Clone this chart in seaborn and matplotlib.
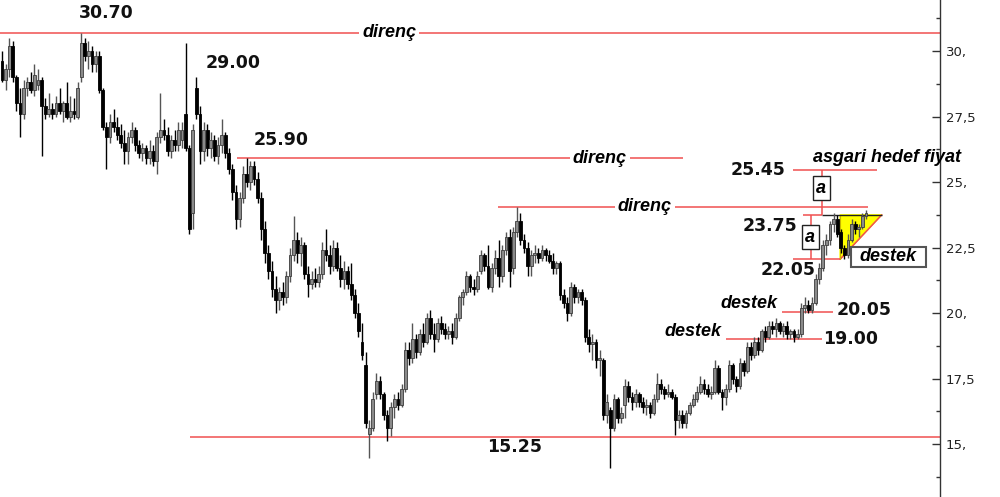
import numpy as np
import pandas as pd
import seaborn as sns
import matplotlib.pyplot as plt
import matplotlib.patches as mpatches
import matplotlib.ticker as mticker

# daily candles
opens = [
    29.6, 28.9, 29.3, 30.2, 29.0, 28.0, 27.6, 28.6, 28.8, 28.5,
    28.7, 28.9, 27.9, 27.6, 27.8, 27.6, 28.0, 27.7, 28.0, 27.5,
    27.7, 27.5, 29.0, 30.3, 29.8, 30.0, 29.5, 29.8, 28.5, 27.1,
    26.7, 27.3, 27.1, 26.8, 26.5, 26.2, 26.7, 27.0, 26.4, 26.1,
    26.3, 25.9, 26.2, 25.8, 26.7, 27.0, 26.8, 26.2, 26.6, 26.4,
    26.6, 27.6, 26.3, 23.8, 28.6, 27.6, 26.2, 27.0, 26.3, 26.6,
    26.0, 26.4, 26.8, 26.1, 25.5, 24.6, 23.6, 24.4, 25.3, 25.0,
    25.6, 25.1, 24.4, 23.2, 22.3, 21.6, 20.9, 20.5, 20.8, 20.6,
    21.4, 22.2, 22.8, 22.3, 22.6, 21.5, 21.1, 21.3, 21.2, 21.5,
    22.4, 22.2, 21.8, 22.5, 21.7, 21.3, 21.6, 21.1, 20.7, 20.0,
    18.9, 18.0, 15.4, 15.6, 16.9, 17.4, 16.9, 16.1, 15.6, 16.4,
    16.7, 16.5, 17.1, 18.6, 18.3, 19.0, 18.5, 19.2, 18.9, 19.8,
    19.2, 19.0, 19.6, 19.4, 19.2, 19.3, 19.1, 19.8, 20.6, 20.8,
    21.4, 21.0, 20.9, 21.6, 22.2, 21.8, 21.0, 21.7, 22.1, 21.4,
    22.4, 22.9, 21.7, 23.1, 23.5, 22.8, 22.5, 21.8, 22.2, 22.3,
    22.1, 22.4, 22.2, 22.0, 21.7, 21.9, 20.7, 20.4, 20.0, 21.0,
    20.6, 20.8, 20.5, 19.1, 18.8, 18.9, 18.2, 18.2, 16.1, 16.3,
    15.6, 16.7, 16.0, 16.5, 17.2, 16.8, 16.6, 16.9, 16.6, 16.4,
    16.5, 16.2, 16.7, 17.3, 17.1, 16.9, 17.0, 16.8, 15.9, 16.1,
    15.8, 16.2, 16.5, 16.7, 17.0, 17.3, 17.1, 16.9, 17.0, 17.9,
    17.0, 16.8, 17.1, 18.0, 17.5, 17.2, 18.1, 17.8, 18.7, 18.4,
    18.9, 18.6, 19.3, 19.1, 19.5, 19.4, 19.6, 19.3, 19.5, 19.2,
    19.3, 19.1, 19.2, 20.2, 20.3, 20.1, 20.4, 21.3, 21.7, 22.6,
    22.8, 23.4, 23.6, 23.1, 22.5, 22.2, 22.8, 23.4, 23.2, 23.3,
    23.7,
]
highs = [
    30.0, 29.5, 30.5, 30.4, 29.1, 28.6, 28.9, 29.0, 29.2, 29.5,
    29.3, 29.0, 28.2, 28.4, 28.0, 28.3, 28.6, 28.1, 28.8, 28.3,
    28.2, 28.8, 30.7, 30.5, 30.4, 30.2, 30.0, 30.0, 28.6, 27.3,
    27.6, 27.8, 27.5, 27.2, 27.0, 26.9, 27.3, 27.1, 26.6, 26.5,
    26.4, 26.6, 26.4, 26.9, 28.4, 27.4, 27.1, 26.8, 27.0, 27.3,
    27.3, 30.3, 26.4, 27.2, 29.0, 27.9, 27.3, 27.2, 26.9, 26.8,
    26.7, 27.4, 26.9, 26.3, 25.7, 24.9, 24.6, 25.6, 25.9, 25.8,
    25.8, 25.4, 24.6, 23.5, 22.6, 22.0, 21.4, 21.0, 21.2, 21.6,
    22.5, 23.7, 23.1, 22.9, 22.7, 21.8, 21.6, 21.7, 21.8, 22.7,
    23.2, 22.6, 22.8, 22.7, 22.2, 22.0, 21.8, 21.9, 20.9, 20.4,
    19.6, 18.5, 15.9, 17.0, 17.7, 17.6, 17.0, 16.3, 16.6, 16.9,
    17.0, 17.3, 18.9, 18.9, 19.6, 19.2, 19.4, 19.6, 20.0, 20.1,
    19.6, 19.8, 19.9, 19.6, 19.5, 19.6, 20.0, 20.7, 20.9, 21.6,
    21.5, 21.3, 21.6, 22.4, 22.3, 22.6, 21.9, 22.4, 22.8, 22.6,
    23.1, 23.2, 23.3, 24.05, 23.8, 23.0, 22.7, 22.4, 22.6, 22.5,
    22.6, 22.5, 22.4, 22.3, 22.0, 22.0, 20.9, 20.6, 21.2, 21.1,
    20.9, 20.9, 20.6, 19.4, 19.2, 19.0, 18.6, 18.3, 16.9, 16.4,
    16.9, 16.8, 16.4, 17.5, 17.4, 17.0, 17.1, 17.0, 16.8, 16.7,
    16.6, 16.9, 17.7, 17.5, 17.2, 17.3, 17.1, 16.9, 16.3, 16.3,
    16.3, 16.6, 16.9, 17.2, 17.6, 17.5, 17.3, 17.2, 18.2, 18.0,
    17.1, 17.3, 18.2, 18.1, 17.6, 18.3, 18.2, 18.9, 18.9, 19.1,
    19.1, 19.4, 19.5, 19.7, 19.7, 19.8, 19.7, 19.6, 19.7, 19.4,
    19.4, 19.4, 20.4, 20.6, 20.5, 20.6, 21.5, 21.9, 22.8, 23.0,
    23.5, 23.8, 23.75, 23.2, 22.6, 23.0, 23.6, 23.5, 23.4, 23.8,
    23.95,
]
lows = [
    28.8, 28.5, 29.0, 28.8, 27.7, 26.7, 27.4, 28.3, 28.4, 28.3,
    28.5, 26.0, 27.4, 27.5, 27.4, 27.5, 27.6, 27.3, 27.4, 27.3,
    27.4, 27.4, 28.8, 29.6, 29.3, 29.2, 29.2, 28.4, 27.0, 25.5,
    26.5, 26.9, 26.6, 26.3, 25.7, 25.7, 26.5, 26.2, 25.9, 25.8,
    25.7, 25.7, 25.6, 25.3, 26.5, 26.6, 26.0, 25.9, 26.2, 26.2,
    26.3, 26.2, 23.0, 23.2, 27.4, 25.7, 25.8, 26.0, 25.9, 25.8,
    25.7, 26.1, 25.9, 25.3, 24.3, 23.2, 23.3, 24.2, 24.8, 24.7,
    24.9, 24.2, 22.8, 21.9, 21.3, 20.6, 20.0, 20.1, 20.3, 20.4,
    21.2, 22.0, 21.9, 21.8, 21.3, 20.6, 20.9, 21.0, 21.0, 21.3,
    22.0, 21.5, 21.6, 21.6, 21.0, 20.9, 20.9, 20.5, 19.8, 19.1,
    18.2, 15.6, 14.45, 15.5, 16.7, 16.7, 15.9, 15.1, 15.3, 16.0,
    16.3, 16.4, 17.0, 18.0, 18.1, 18.3, 18.4, 18.7, 18.8, 19.0,
    18.5, 18.9, 19.2, 19.0, 19.0, 18.8, 19.0, 19.7, 20.3, 20.7,
    20.8, 20.7, 20.8, 21.5, 21.6, 20.9, 20.8, 21.5, 21.0, 21.2,
    22.2, 21.0, 21.5, 22.9, 22.6, 22.3, 21.4, 21.4, 21.9, 21.9,
    22.0, 22.0, 21.9, 21.5, 21.5, 20.5, 20.2, 19.7, 19.9, 20.4,
    20.4, 20.3, 18.9, 18.5, 18.2, 17.9, 17.6, 15.9, 15.8, 14.1,
    15.5, 15.8, 15.8, 16.0, 16.6, 16.3, 16.4, 16.4, 16.2, 16.1,
    16.0, 16.1, 16.6, 16.9, 16.7, 16.8, 16.7, 15.35, 15.6, 15.6,
    15.6, 16.1, 16.4, 16.6, 16.9, 16.9, 16.8, 16.7, 16.9, 16.9,
    16.3, 16.5, 17.0, 17.3, 17.0, 17.1, 17.6, 17.7, 18.2, 18.3,
    18.4, 18.5, 18.9, 19.0, 19.2, 19.1, 19.2, 19.1, 19.0, 19.0,
    18.9, 19.0, 19.1, 20.0, 20.0, 20.0, 20.3, 21.1, 21.6, 22.2,
    22.6, 23.1, 22.9, 22.3, 22.05, 22.1, 22.7, 23.0, 22.9, 23.2,
    23.6,
]
closes = [
    28.9, 29.3, 30.2, 29.0, 28.0, 27.6, 28.6, 28.8, 28.5, 29.1,
    28.9, 27.9, 27.6, 27.8, 27.6, 28.0, 27.7, 28.0, 27.5, 27.7,
    27.6, 28.6, 30.3, 29.8, 30.0, 29.5, 29.8, 28.5, 27.1, 26.7,
    27.3, 27.1, 26.8, 26.5, 26.2, 26.7, 27.0, 26.4, 26.1, 26.3,
    25.9, 26.2, 25.8, 26.7, 27.0, 26.8, 26.2, 26.6, 26.4, 27.0,
    27.0, 26.3, 23.2, 27.0, 27.6, 26.2, 27.0, 26.3, 26.6, 26.0,
    26.4, 26.8, 26.1, 25.5, 24.6, 23.6, 24.4, 25.3, 25.0, 25.6,
    25.1, 24.4, 23.2, 22.3, 21.6, 20.9, 20.5, 20.8, 20.6, 21.4,
    22.2, 22.8, 22.3, 22.6, 21.5, 21.1, 21.3, 21.2, 21.5, 22.4,
    22.2, 21.8, 22.5, 21.7, 21.3, 21.6, 21.1, 20.7, 20.0, 19.3,
    18.4, 15.8, 15.6, 16.7, 17.4, 16.9, 16.1, 15.6, 16.4, 16.7,
    16.5, 17.1, 18.6, 18.3, 19.0, 18.5, 19.2, 18.9, 19.8, 19.2,
    19.0, 19.6, 19.4, 19.2, 19.3, 19.1, 19.8, 20.6, 20.8, 21.4,
    21.0, 20.9, 21.4, 22.2, 21.8, 21.0, 21.7, 22.1, 21.4, 22.4,
    22.9, 21.6, 23.1, 23.5, 22.8, 22.5, 21.8, 22.2, 22.3, 22.1,
    22.4, 22.2, 22.0, 21.7, 21.9, 20.7, 20.4, 20.0, 21.0, 20.6,
    20.8, 20.5, 19.1, 18.8, 18.9, 18.2, 18.3, 16.1, 16.6, 15.6,
    16.7, 16.0, 16.2, 17.2, 16.8, 16.6, 16.9, 16.6, 16.4, 16.5,
    16.2, 16.7, 17.3, 17.1, 16.9, 17.0, 16.8, 15.9, 16.1, 15.8,
    16.2, 16.5, 16.7, 17.0, 17.3, 17.1, 16.9, 17.0, 17.9, 17.0,
    16.8, 17.1, 18.0, 17.5, 17.2, 18.1, 17.8, 18.7, 18.4, 18.9,
    18.6, 19.3, 19.1, 19.5, 19.4, 19.6, 19.3, 19.5, 19.2, 19.3,
    19.1, 19.2, 20.2, 20.3, 20.1, 20.4, 21.3, 21.7, 22.6, 22.8,
    23.4, 23.6, 23.0, 22.5, 22.2, 22.8, 23.4, 23.2, 23.3, 23.7,
    23.8,
]

# annotated price levels
resist_top = 30.70
resist_mid = 25.90
resist_low = 24.05
support_floor = 15.25
target = 25.45
flag_top = 23.75
flag_bottom = 22.05
support_a = 20.05
support_b = 19.00

yticks = [15, 17.5, 20, 22.5, 25, 27.5, 30]

RED = "#f05050"
BOLD_IT = dict(fontsize=13, fontweight="bold", fontstyle="italic",
               family="Liberation Sans", color="black")
NUM = dict(fontsize=12.5, fontweight="bold", color="#111111")

sns.set_theme(style="white")
plt.rcParams["font.family"] = ["DejaVu Sans"]

df = pd.DataFrame({"open": opens, "high": highs, "low": lows, "close": closes})
df["x"] = np.arange(len(df))
up = df["close"] >= df["open"]

fig = plt.figure(figsize=(10, 4.97), dpi=100)
ax = fig.add_axes([0, 0, 0.94, 1])

# candles
ax.vlines(df["x"], df["low"], df["high"],
          colors=np.where(up, "#555555", "#000000"), lw=1, zorder=3)
body_lo = df[["open", "close"]].min(axis=1)
body_h = (df["close"] - df["open"]).abs().clip(lower=0.08)
ax.bar(df["x"], body_h, bottom=body_lo, width=0.8,
       color=np.where(up, "#8a8a8a", "#000000"),
       edgecolor=np.where(up, "#3c3c3c", "#000000"), linewidth=0.6, zorder=4)

# resistance / support lines
ax.hlines(resist_top, -1, 262, color=RED, lw=1.1, zorder=2)
ax.text(107.5, resist_top, "direnç", ha="center", va="center", zorder=5,
        bbox=dict(facecolor="white", edgecolor="none", pad=2), **BOLD_IT)
ax.hlines(resist_mid, 65.3, 189.2, color=RED, lw=1.1, zorder=2)
ax.text(166.1, resist_mid, "direnç", ha="center", va="center", zorder=5,
        bbox=dict(facecolor="white", edgecolor="none", pad=2), **BOLD_IT)
ax.hlines(resist_low, 137.8, 240.6, color=RED, lw=1.1, zorder=2)
ax.text(178.6, resist_low, "direnç", ha="center", va="center", zorder=5,
        bbox=dict(facecolor="white", edgecolor="none", pad=2), **BOLD_IT)
ax.hlines(support_floor, 52.2, 262, color=RED, lw=1.1, zorder=2)

ax.text(28.9, 31.45, "30.70", ha="center", va="center", **NUM)
ax.text(64.2, 29.54, "29.00", ha="center", va="center", **NUM)
ax.text(77.5, 26.6, "25.90", ha="center", va="center", **NUM)
ax.text(142.5, 14.89, "15.25", ha="center", va="center", **NUM)

# triangle / target
ax.fill([232.8, 244.4, 232.8], [flag_top, flag_top, flag_bottom],
        color="#ffff00", zorder=1)
ax.plot([232.8, 244.4], [flag_bottom, flag_top], color=RED, lw=1.1, zorder=2)
ax.plot([232.8, 232.8], [flag_bottom, flag_top], color="#c8b400", lw=0.8, zorder=2)
ax.hlines(flag_top, 227.8, 244.4, color="#222222", lw=1, zorder=2)
ax.hlines(flag_top, 222.5, 227.8, color=RED, lw=1.1, zorder=2)
ax.hlines(target, 219.7, 243.1, color=RED, lw=1.1, zorder=2)
ax.hlines(flag_bottom, 219.7, 232.8, color=RED, lw=1.1, zorder=2)
ax.vlines(227.8, flag_top, target, color=RED, lw=1.1, zorder=2)
ax.vlines(224.7, flag_bottom, flag_top, color=RED, lw=1.1, zorder=2)

box = dict(facecolor="white", edgecolor="#222222", lw=1, boxstyle="square,pad=0.2")
ax.text(227.6, 24.77, "a", ha="center", va="center", zorder=6, bbox=box, **BOLD_IT)
ax.text(224.5, 22.90, "a", ha="center", va="center", zorder=6, bbox=box, **BOLD_IT)

ax.text(210.0, target, "25.45", ha="center", va="center", **NUM)
ax.text(245.8, 25.92, "asgari hedef fiyat", ha="center", va="center",
        clip_on=False, **BOLD_IT)
ax.text(213.3, 23.32, "23.75", ha="center", va="center", **NUM)
ax.text(218.3, 21.64, "22.05", ha="center", va="center", **NUM)

ax.add_patch(mpatches.Rectangle((235.8, 21.76), 20.9, 0.76, facecolor="white",
                                edgecolor="#555555", lw=1.5, zorder=6, clip_on=False))
ax.text(246.2, 22.14, "destek", ha="center", va="center", zorder=7,
        clip_on=False, **BOLD_IT)

ax.hlines(support_a, 216.7, 230.8, color=RED, lw=1.1, zorder=2)
ax.text(207.5, 20.38, "destek", ha="center", va="center", **BOLD_IT)
ax.text(239.4, 20.11, "20.05", ha="center", va="center", **NUM)
ax.hlines(support_b, 201.1, 227.8, color=RED, lw=1.1, zorder=2)
ax.text(191.9, 19.31, "destek", ha="center", va="center", **BOLD_IT)
ax.text(235.8, 19.0, "19.00", ha="center", va="center", **NUM)

# axes
ax.set_xlim(-0.556, 260.56)
ax.set_ylim(12.977, 31.947)
ax.set_xticks([])
ax.yaxis.tick_right()
ax.yaxis.set_major_locator(mticker.FixedLocator(yticks))
ax.yaxis.set_minor_locator(mticker.FixedLocator([t + 1.25 for t in [12.5] + yticks]))
ax.yaxis.set_major_formatter(mticker.FuncFormatter(
    lambda v, _: (f"{v:g}" if v % 1 else f"{v:g}.").replace(".", ",")))
ax.tick_params(axis="y", which="major", direction="in", length=6, width=1,
               color="#333333", labelsize=9.5, labelcolor="#222222", pad=4)
ax.tick_params(axis="y", which="minor", direction="in", length=3, width=1,
               color="#333333")
for side in ["left", "top", "bottom"]:
    ax.spines[side].set_visible(False)
ax.spines["right"].set_color("#333333")
ax.spines["right"].set_linewidth(1)

fig.savefig("out.png", dpi=100)
